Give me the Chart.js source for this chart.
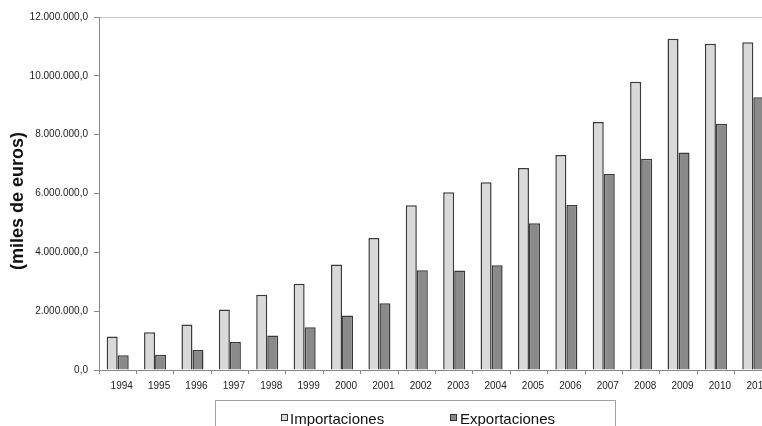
<!DOCTYPE html>
<html>
<head>
<meta charset="utf-8">
<script src="https://cdn.jsdelivr.net/npm/chart.js@4/dist/chart.umd.min.js"></script>
<style>
  html, body { margin: 0; padding: 0; background: #fff; overflow: hidden; width: 762px; height: 426px; }
  canvas { display: block; }
</style>
</head>
<body>
<canvas id="c" width="774" height="426"></canvas>
<script>
// Comercio exterior, miles de euros
const years = ['1994','1995','1996','1997','1998','1999','2000','2001','2002',
               '2003','2004','2005','2006','2007','2008','2009','2010','2011'];
const importaciones = [1140000, 1280000, 1550000, 2060000, 2560000, 2930000, 3590000, 4490000, 5600000,
                       6040000, 6380000, 6870000, 7310000, 8430000, 9800000, 11260000, 11090000, 11140000];
const exportaciones = [500000, 520000, 680000, 950000, 1170000, 1450000, 1850000, 2270000, 3390000,
                       3380000, 3560000, 4990000, 5610000, 6660000, 7180000, 7390000, 8370000, 9270000];
const yTicks = [0, 2000000, 4000000, 6000000, 8000000, 10000000, 12000000];
const yTitle = '(miles de euros)';

const FONT = 'Arial, "Liberation Sans", Helvetica, sans-serif';

function fmt(v) {
  return Math.round(v).toString().replace(/\B(?=(\d{3})+(?!\d))/g, '.') + ',0';
}

// Vertical axis title and boxed legend under the axis
const decorations = {
  id: 'decorations',
  afterDraw(chart) {
    const ctx = chart.ctx;
    ctx.save();

    // axis title
    ctx.save();
    ctx.translate(18.5, 201);
    ctx.rotate(-Math.PI / 2);
    ctx.font = 'bold 18px ' + FONT;
    ctx.fillStyle = '#111';
    ctx.textAlign = 'center';
    ctx.textBaseline = 'middle';
    ctx.fillText(yTitle, 0, 0);
    ctx.restore();

    // legend box
    ctx.strokeStyle = '#a0a0a0';
    ctx.lineWidth = 1;
    ctx.strokeRect(215.5, 400.5, 400, 40);
    const items = [
      { x: 281, tx: 290, ds: chart.data.datasets[0] },
      { x: 450, tx: 460, ds: chart.data.datasets[1] }
    ];
    ctx.font = '15px ' + FONT;
    ctx.textBaseline = 'alphabetic';
    ctx.textAlign = 'left';
    items.forEach(it => {
      ctx.fillStyle = it.ds.backgroundColor;
      ctx.fillRect(it.x + 0.5, 414.5, 6, 6);
      ctx.strokeStyle = '#333';
      ctx.strokeRect(it.x + 0.5, 414.5, 6, 6);
      ctx.fillStyle = '#111';
      ctx.fillText(it.ds.label, it.tx, 424);
    });
    ctx.restore();
  }
};

new Chart(document.getElementById('c'), {
  type: 'bar',
  data: {
    labels: years,
    datasets: [
      {
        label: 'Importaciones',
        data: importaciones,
        backgroundColor: '#d9d9d9',
        borderColor: '#3a3a3a',
        borderWidth: 1.5,
        borderSkipped: 'bottom'
      },
      {
        label: 'Exportaciones',
        data: exportaciones,
        backgroundColor: '#8a8a8a',
        borderColor: '#3a3a3a',
        borderWidth: 1.5,
        borderSkipped: 'bottom'
      }
    ]
  },
  options: {
    responsive: false,
    animation: false,
    devicePixelRatio: 1,
    layout: { padding: { left: 0, right: 2, top: 17, bottom: 0 } },
    datasets: { bar: { categoryPercentage: 0.59, barPercentage: 1.0 } },
    plugins: {
      legend: { display: false },
      tooltip: { enabled: false }
    },
    scales: {
      x: {
        type: 'category',
        offset: true,
        grid: {
          offset: true,
          drawOnChartArea: false,
          tickLength: 4,
          tickColor: '#888',
          color: '#888'
        },
        border: { color: '#888', width: 1 },
        ticks: {
          autoSkip: false,
          maxRotation: 0,
          padding: 6,
          labelOffset: 4,
          color: '#222',
          font: { family: FONT, size: 10 }
        },
        afterFit(scale) { scale.height = 56; }
      },
      y: {
        min: 0,
        max: 12000000,
        afterBuildTicks(scale) { scale.ticks = yTicks.map(v => ({ value: v })); },
        grid: {
          color: c => (c.tick && c.tick.value === 12000000) ? '#c4c4c4' : 'rgba(0,0,0,0)',
          tickColor: '#888',
          tickLength: 5
        },
        border: { color: '#888', width: 1 },
        ticks: {
          padding: 6,
          color: '#222',
          font: { family: FONT, size: 10 },
          callback: v => fmt(v)
        },
        title: { display: false },
        afterFit(scale) { scale.width = 99; }
      }
    }
  },
  plugins: [decorations]
});
</script>
</body>
</html>
